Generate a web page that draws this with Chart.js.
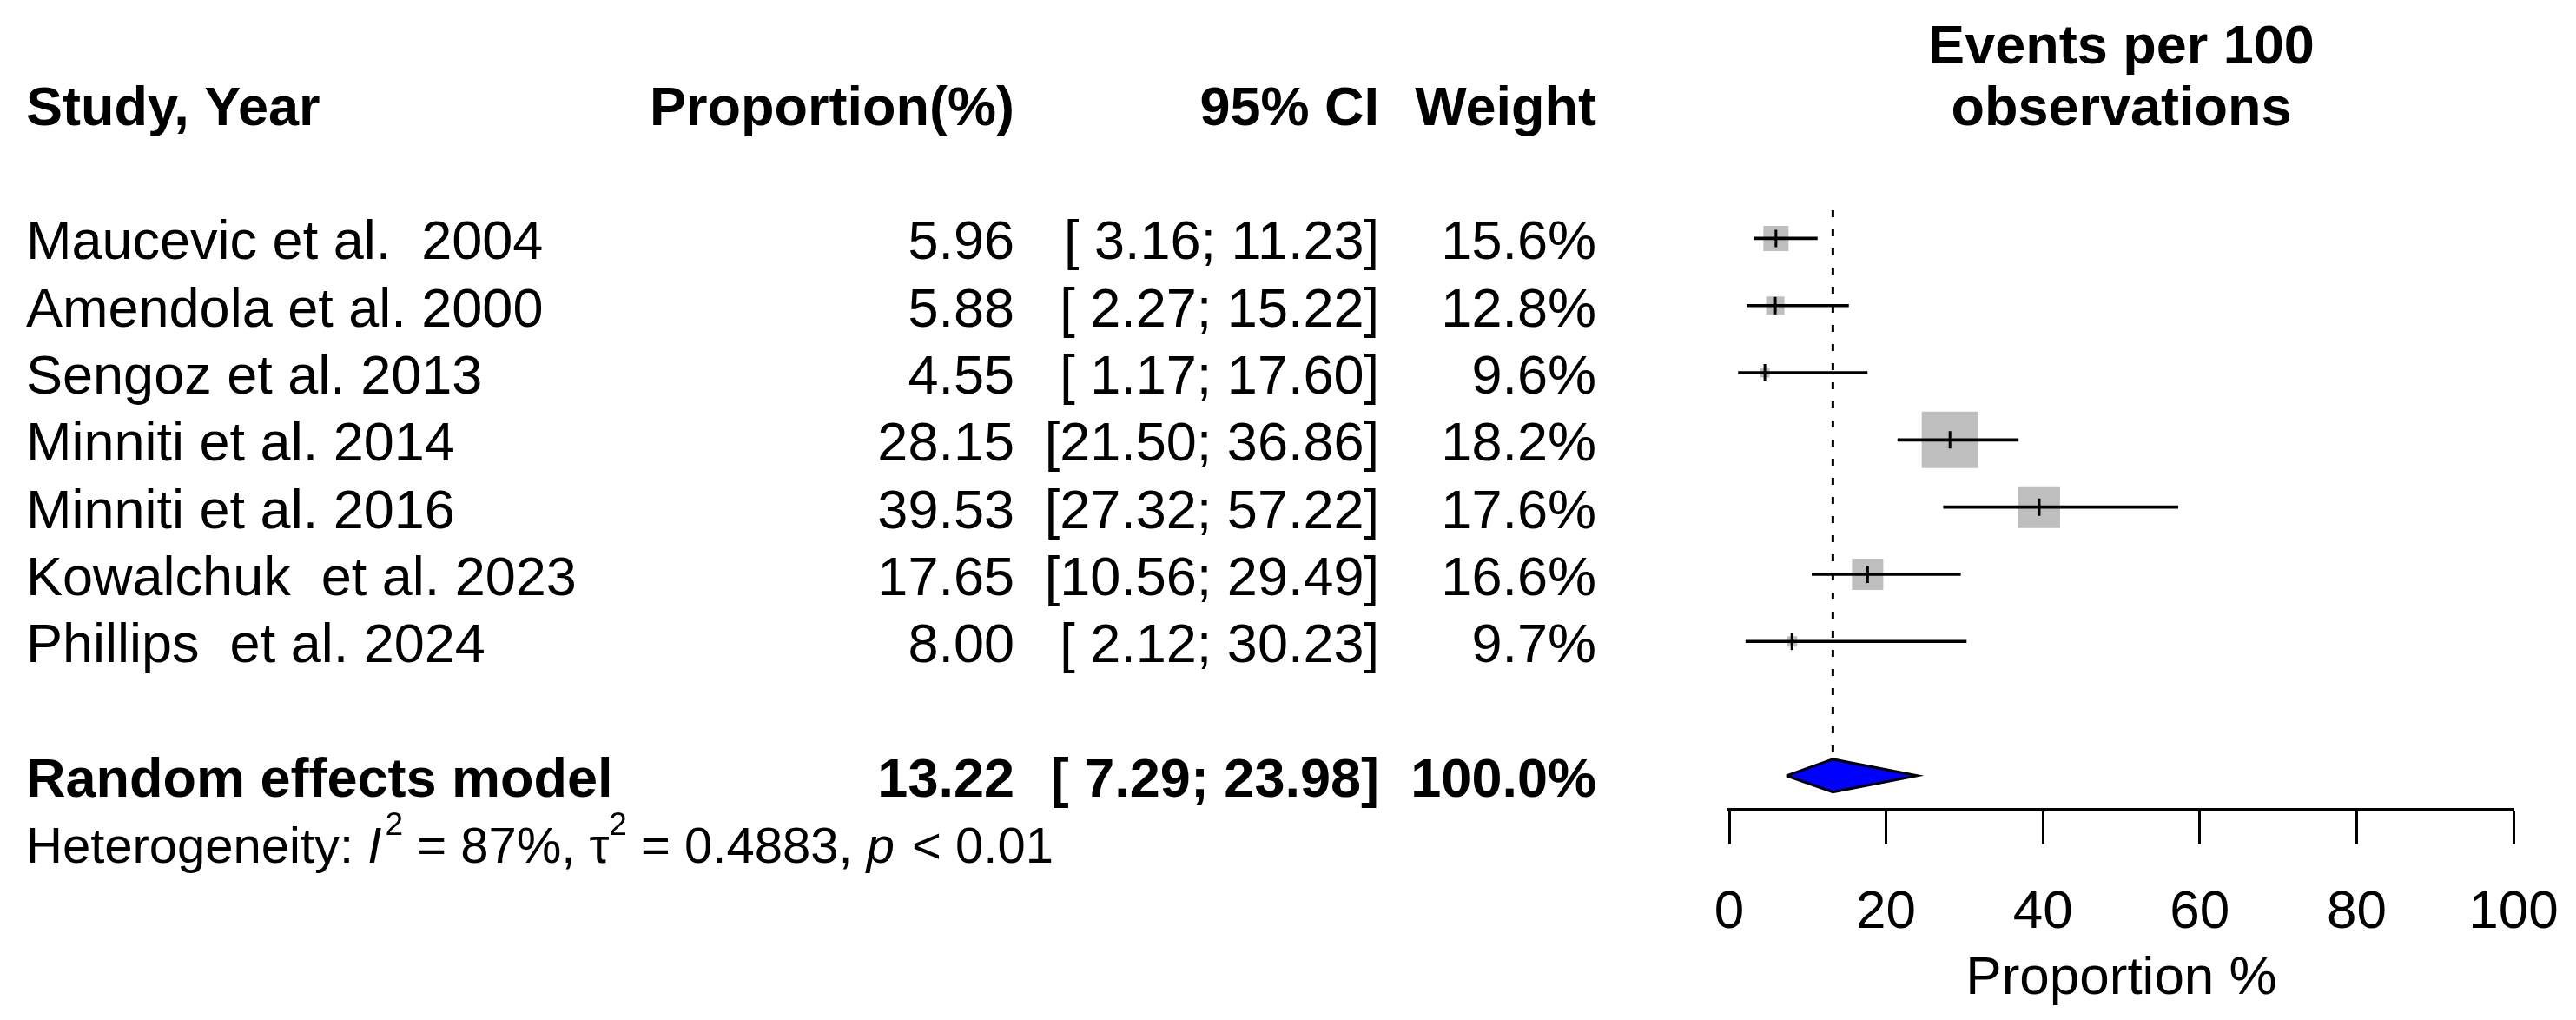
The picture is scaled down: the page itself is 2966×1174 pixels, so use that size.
<!DOCTYPE html>
<html>
<head>
<meta charset="utf-8">
<script src="https://cdn.jsdelivr.net/npm/chart.js@4.4.1/dist/chart.umd.min.js"></script>
<style>
    html, body { margin: 0; padding: 0; background: #fff; }
    #wrap { width: 2966px; height: 1174px; }
</style>
</head>
<body>
<div id="wrap"><canvas id="forestChart" width="2966" height="1174"></canvas></div>
<script>
// study table
const studies = ['Maucevic et al.  2004', 'Amendola et al. 2000', 'Sengoz et al. 2013', 'Minniti et al. 2014',
    'Minniti et al. 2016', 'Kowalchuk  et al. 2023', 'Phillips  et al. 2024'];
const proportion = [5.96, 5.88, 4.55, 28.15, 39.53, 17.65, 8.00];
const ciLower = [3.16, 2.27, 1.17, 21.50, 27.32, 10.56, 2.12];
const ciUpper = [11.23, 15.22, 17.60, 36.86, 57.22, 29.49, 30.23];
const weights = ['15.6%', '12.8%', '9.6%', '18.2%', '17.6%', '16.6%', '9.7%'];

// pooled estimate
const pooledLabel = 'Random effects model';
const pooled = [13.22, 7.29, 23.98];
const pooledWeight = '100.0%';

const xTicks = [0, 20, 40, 60, 80, 100];

// box side in px, as drawn in the reference
const boxSide = [29, 21, 11, 65, 48, 36, 12];

const FONT = "'Liberation Sans', Arial, sans-serif";
const FS = 63;
const HET_FS = 58;
const summaryRow = studies.length + 1;
const diamondHalf = 0.245;

function fmtCI(lo, hi) {
    const a = lo.toFixed(2), b = hi.toFixed(2);
    return '[' + (a.length < 5 ? ' ' + a : a) + '; ' + (b.length < 5 ? ' ' + b : b) + ']';
}

// table text drawn next to the plot, rows placed with the y scale
const tablePlugin = {
    id: 'tablePlugin',
    afterDraw(chart) {
        const ctx = chart.ctx;
        const ys = chart.scales.y;
        const xs = chart.scales.x;
        const base = v => ys.getPixelForValue(v) + 24;
        ctx.save();
        ctx.fillStyle = '#000';
        ctx.textBaseline = 'alphabetic';

        // headers
        ctx.font = `bold ${FS}px ${FONT}`;
        ctx.textAlign = 'left';
        ctx.fillText('Study, Year', 30, base(-2));
        ctx.textAlign = 'right';
        ctx.fillText('Proportion(%)', 1168, base(-2));
        ctx.fillText('95% CI', 1588, base(-2));
        ctx.fillText('Weight', 1838, base(-2));
        ctx.textAlign = 'center';
        const mid = xs.getPixelForValue(50);
        ctx.fillText('Events per 100', mid, base(-2.92));
        ctx.fillText('observations', mid, base(-2));

        // study rows
        ctx.font = `${FS}px ${FONT}`;
        studies.forEach((s, i) => {
            ctx.textAlign = 'left';
            ctx.fillText(s, 30, base(i));
            ctx.textAlign = 'right';
            ctx.fillText(proportion[i].toFixed(2), 1168, base(i));
            ctx.fillText(fmtCI(ciLower[i], ciUpper[i]), 1588, base(i));
            ctx.fillText(weights[i], 1838, base(i));
        });

        // pooled row
        ctx.font = `bold ${FS}px ${FONT}`;
        ctx.textAlign = 'left';
        ctx.fillText(pooledLabel, 30, base(summaryRow));
        ctx.textAlign = 'right';
        ctx.fillText(pooled[0].toFixed(2), 1168, base(summaryRow));
        ctx.fillText(fmtCI(pooled[1], pooled[2]), 1588, base(summaryRow));
        ctx.fillText(pooledWeight, 1838, base(summaryRow));

        // heterogeneity line
        ctx.textAlign = 'left';
        const hy = base(summaryRow + 1) - 1;
        let x = 30;
        const parts = [
            ['Heterogeneity: ', 'normal'],
            ['I', 'italic'],
            ['2', 'sup'],
            [' = 87%, ', 'normal'],
            ['\u03c4', 'normal'],
            ['2', 'sup'],
            [' = 0.4883, ', 'normal'],
            ['p', 'italic'],
            [' < 0.01', 'normal']
        ];
        parts.forEach(([t, st]) => {
            let y = hy;
            if (st === 'sup') {
                ctx.font = `37px ${FONT}`;
                y = hy - 32;
            } else if (st === 'italic') {
                ctx.font = `italic ${HET_FS}px ${FONT}`;
            } else {
                ctx.font = `${HET_FS}px ${FONT}`;
            }
            ctx.fillText(t, x, y);
            x += ctx.measureText(t).width + (st === 'italic' ? 4 : 0);
        });
        ctx.restore();
    }
};

const rows = studies.map((s, i) => i);

new Chart(document.getElementById('forestChart'), {
    type: 'scatter',
    data: {
        datasets: [
            {
                // pooled diamond
                type: 'scatter',
                showLine: true,
                data: [
                    { x: pooled[1], y: summaryRow },
                    { x: pooled[0], y: summaryRow - diamondHalf },
                    { x: pooled[2], y: summaryRow },
                    { x: pooled[0], y: summaryRow + diamondHalf },
                    { x: pooled[1], y: summaryRow }
                ],
                borderColor: '#000',
                borderWidth: 3,
                backgroundColor: '#0000FF',
                fill: 'shape',
                pointRadius: 0,
                tension: 0,
                order: 0
            },
            {
                // point estimate ticks
                data: rows.map(i => ({ x: proportion[i], y: i })),
                pointStyle: 'line',
                rotation: 90,
                pointRadius: 10,
                borderWidth: 3,
                borderColor: '#000',
                order: 1
            },
            {
                // confidence intervals
                type: 'bar',
                indexAxis: 'y',
                data: rows.map(i => ({ x: [ciLower[i], ciUpper[i]], y: i })),
                backgroundColor: '#000',
                borderWidth: 0,
                barThickness: 3,
                order: 2
            },
            {
                // reference line at pooled estimate
                showLine: true,
                data: [{ x: pooled[0], y: -0.42 }, { x: pooled[0], y: summaryRow - diamondHalf }],
                borderColor: '#000',
                borderWidth: 3,
                borderDash: [8, 14],
                pointRadius: 0,
                order: 4
            },
            {
                // weight boxes
                data: rows.map(i => ({ x: proportion[i], y: i })),
                pointStyle: 'rect',
                pointRadius: boxSide.map(s => s / Math.SQRT2),
                backgroundColor: '#BEBEBE',
                borderWidth: 0,
                order: 3
            }
        ]
    },
    options: {
        responsive: false,
        animation: false,
        devicePixelRatio: 1,
        layout: { autoPadding: false, padding: { left: 1991, right: 72, top: 0, bottom: 0 } },
        plugins: { legend: { display: false }, tooltip: { enabled: false } },
        scales: {
            x: {
                type: 'linear',
                min: 0,
                max: 100,
                offset: false,
                afterBuildTicks: axis => { axis.ticks = xTicks.map(v => ({ value: v })); },
                ticks: {
                    color: '#000',
                    font: { family: FONT, size: 62, lineHeight: 2.55 },
                    padding: 0,
                    maxRotation: 0
                },
                grid: {
                    display: true,
                    offset: false,
                    drawOnChartArea: false,
                    drawTicks: true,
                    tickLength: 40,
                    tickWidth: 3,
                    tickColor: '#000'
                },
                border: { display: true, color: '#000', width: 4 },
                title: {
                    display: true,
                    text: 'Proportion %',
                    color: '#000',
                    font: { family: FONT, size: 62, lineHeight: 1.2 },
                    padding: { top: -40, bottom: 10 }
                }
            },
            y: {
                type: 'linear',
                reverse: true,
                offset: false,
                grace: 0,
                min: -3.55,
                max: 8.5,
                display: false
            }
        }
    },
    plugins: [tablePlugin]
});
</script>
</body>
</html>
